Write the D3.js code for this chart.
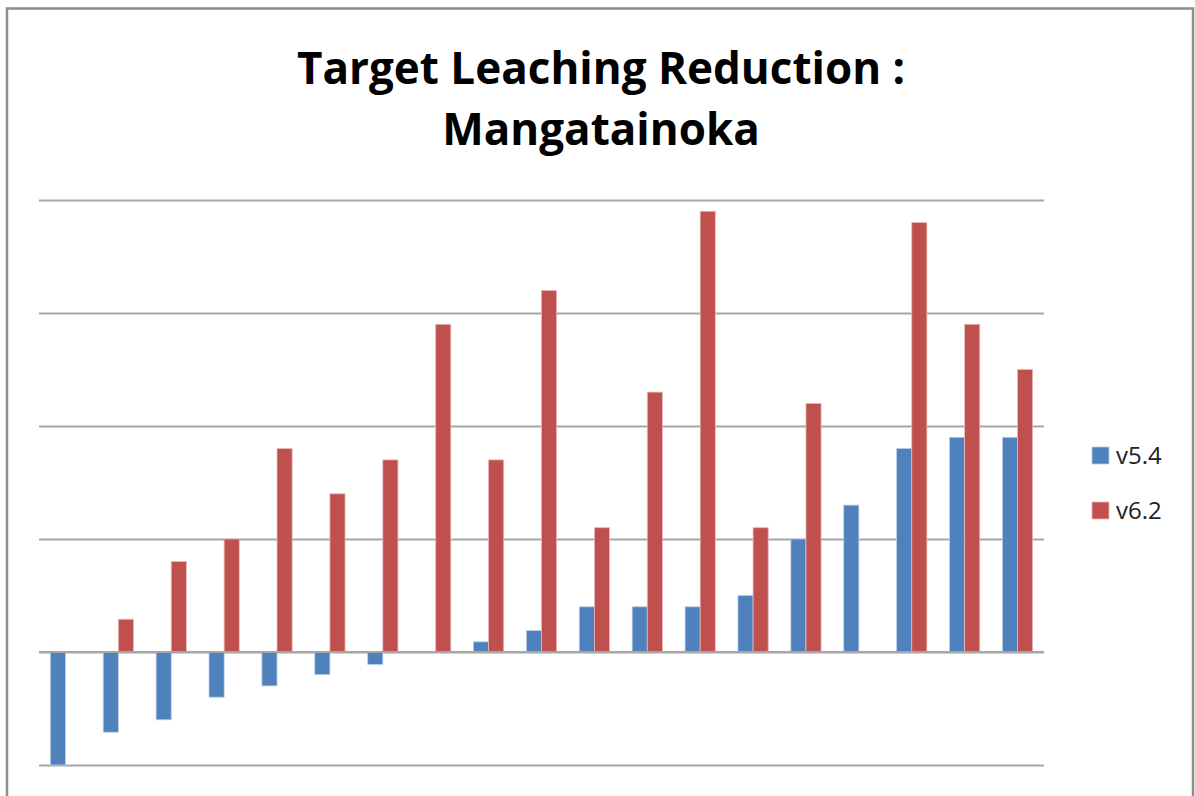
<!DOCTYPE html>
<html>
<head>
<meta charset="utf-8">
<script src="https://d3js.org/d3.v7.min.js"></script>
<style>
  body { margin: 0; background: #fff; }
</style>
</head>
<body>
<svg id="chart" width="1195" height="796"></svg>

<script>
// data (one gridline = 1 unit, no tick labels shown)
const categories = ["1","2","3","4","5","6","7","8","9","10","11","12","13","14","15","16","17","18","19"]
const seriesNames = ["v5.4", "v6.2"]
const v54 = [-1.0, -0.71, -0.6, -0.4, -0.3, -0.2, -0.11, 0, 0.09, 0.19, 0.4, 0.4, 0.4, 0.5, 1.0, 1.3, 1.8, 1.9, 1.9]
const v62 = [0, 0.29, 0.8, 1.0, 1.8, 1.4, 1.7, 2.9, 1.7, 3.2, 1.1, 2.3, 3.9, 1.1, 2.2, 0, 3.8, 2.9, 2.5]
const gridTicks = [-1, 0, 1, 2, 3, 4]

const colors = { "v5.4": "#4F81BD", "v6.2": "#C0504D" }
const strokes = { "v5.4": "#b9cde5", "v6.2": "#e6b9b8" }

const plotLeft = 39, plotRight = 1044
const plotTop = 200, plotBottom = 765

const svg = d3.select("#chart")

// outer frame
svg.append("rect")
  .attr("x", 7).attr("y", 8.5)
  .attr("width", 1186).attr("height", 800)
  .attr("fill", "#fff")
  .attr("stroke", "#8c8c8c")
  .attr("stroke-width", 2.5)

// title
const title = svg.append("text")
  .attr("text-anchor", "middle")
  .attr("font-family", "'Open Sans', sans-serif")
  .attr("font-weight", "bold")
  .attr("font-size", 44)
  .attr("fill", "#000")
title.append("tspan").attr("x", 601).attr("y", 84).text("Target Leaching Reduction :")
title.append("tspan").attr("x", 601).attr("y", 145).text("Mangatainoka")

const x0 = d3.scaleBand()
  .domain(categories)
  .range([plotLeft, plotRight])
  .padding(0)

const x1 = d3.scaleBand()
  .domain(seriesNames)
  .range([0, x0.bandwidth()])
  .paddingInner(0)
  .paddingOuter(0.75)

const y = d3.scaleLinear()
  .domain([-1, 4])
  .range([plotBottom, plotTop])

// gridlines
svg.append("g")
  .attr("transform", "translate(" + plotLeft + ",0)")
  .call(d3.axisLeft(y).tickValues(gridTicks).tickSize(-(plotRight - plotLeft)).tickFormat(""))
  .call(g => g.select(".domain").remove())
  .call(g => g.selectAll(".tick line").attr("stroke", "#a6a6a6").attr("stroke-width", 2))

const rows = categories.map((c, i) => ({ cat: c, values: [
  { key: "v5.4", value: v54[i] },
  { key: "v6.2", value: v62[i] }
]}))

svg.append("g")
  .selectAll("g")
  .data(rows)
  .join("g")
    .attr("transform", d => "translate(" + x0(d.cat) + ",0)")
  .selectAll("rect")
  .data(d => d.values.filter(v => v.value !== 0))
  .join("rect")
    .attr("x", d => x1(d.key))
    .attr("width", x1.bandwidth())
    .attr("y", d => y(Math.max(0, d.value)))
    .attr("height", d => Math.abs(y(d.value) - y(0)))
    .attr("fill", d => colors[d.key])
    .attr("stroke", d => strokes[d.key])
    .attr("stroke-width", 0.8)

// redraw zero line on top
svg.append("line")
  .attr("x1", plotLeft).attr("x2", plotRight)
  .attr("y1", y(0)).attr("y2", y(0))
  .attr("stroke", "#a6a6a6").attr("stroke-width", 2)

// legend
const legend = svg.append("g")
  .selectAll("g")
  .data(seriesNames)
  .join("g")
    .attr("transform", (d, i) => "translate(1092," + (447 + i * 55) + ")")
legend.append("rect")
  .attr("width", 17).attr("height", 17)
  .attr("fill", d => colors[d])
  .attr("stroke", d => strokes[d])
  .attr("stroke-width", 0.8)
legend.append("text")
  .attr("x", 24).attr("y", 17)
  .attr("font-family", "'Open Sans', sans-serif")
  .attr("font-size", 24)
  .attr("fill", "#222")
  .text(d => d)
</script>
</body>
</html>
